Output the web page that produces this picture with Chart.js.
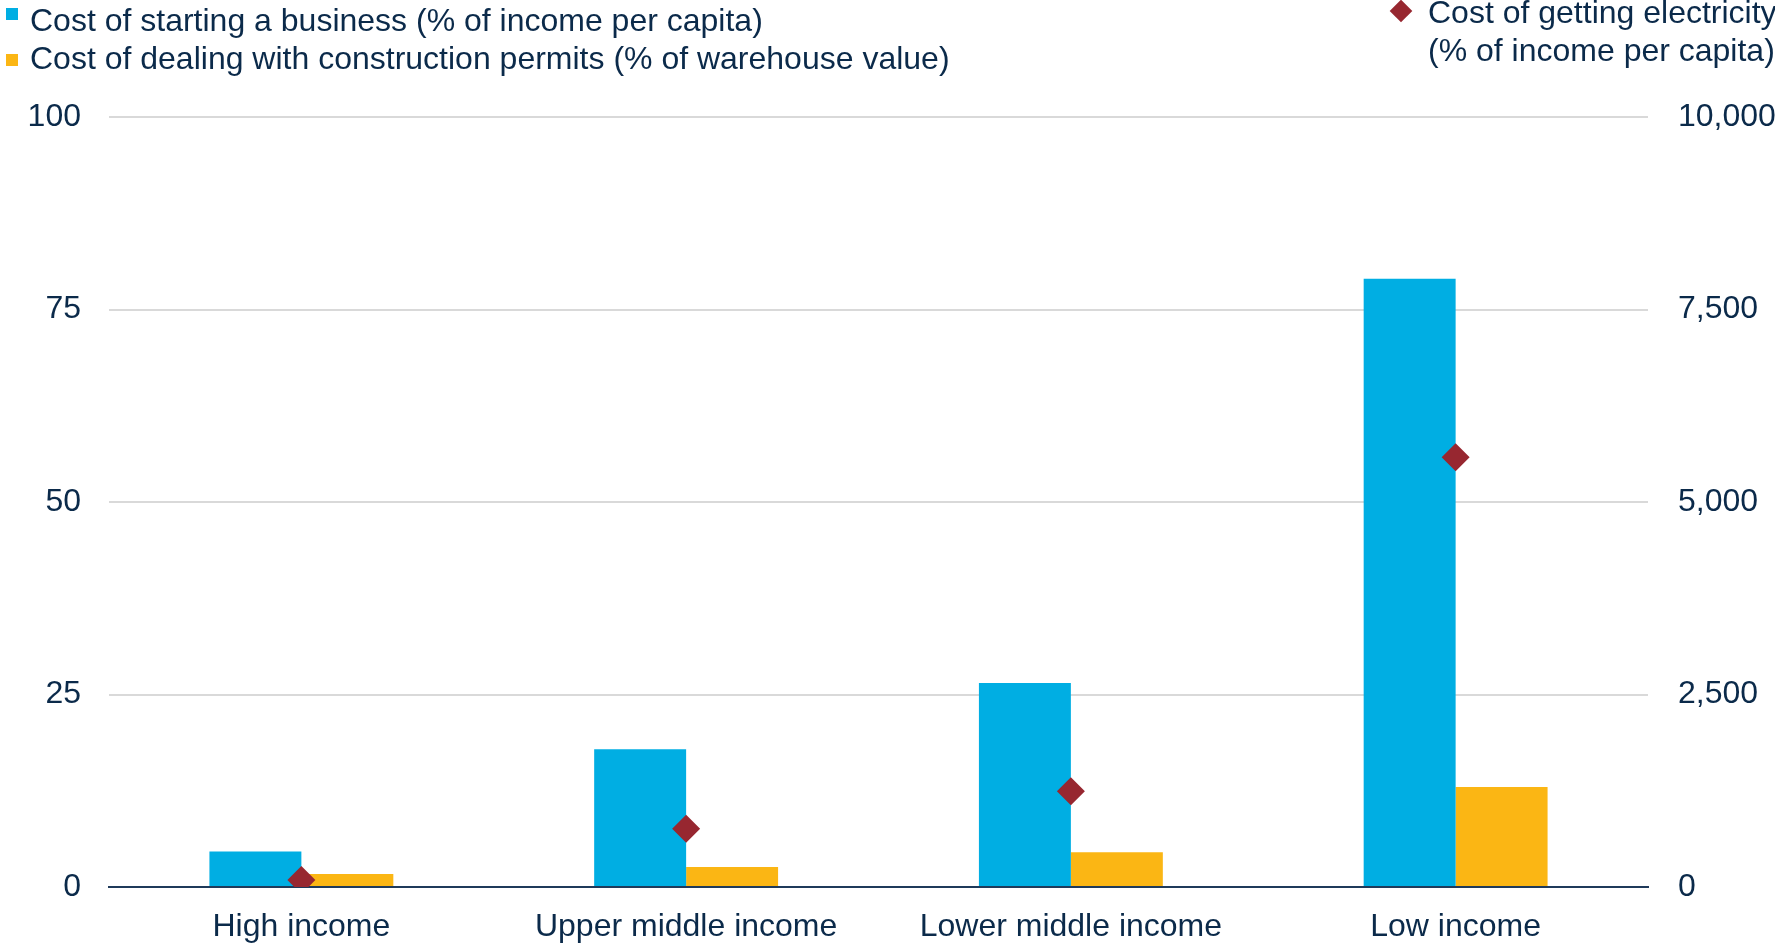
<!DOCTYPE html>
<html>
<head>
<meta charset="utf-8">
<script src="https://cdn.jsdelivr.net/npm/chart.js@4"></script>
<style>
    body { margin: 0; background: #fff; font-family: "Liberation Sans", Arial, sans-serif; color: #0b2a4a; overflow: hidden; }
    .wrap { position: relative; width: 1775px; height: 943px; }
    canvas { display: block; }
    .legend-item { position: absolute; font-size: 32px; line-height: 38px; white-space: nowrap; }
    .swatch { position: absolute; width: 12px; height: 12px; }
    .diamond { position: absolute; width: 16px; height: 16px; background: #972730; transform: rotate(45deg); }
</style>
</head>
<body>
<div class="wrap">
    <canvas id="chart" width="1775" height="943"></canvas>
    <div class="swatch" style="left:6px; top:8px; background:#00aee3;"></div>
    <div class="legend-item" id="leg-business" style="left:30px; top:1px;"></div>
    <div class="swatch" style="left:6px; top:54px; background:#fbb614;"></div>
    <div class="legend-item" id="leg-construction" style="left:30px; top:39px;"></div>
    <div class="diamond" style="left:1393px; top:3px;"></div>
    <div class="legend-item" id="leg-electricity" style="left:1428px; top:-7px;"></div>
</div>
<script>
const categories = ['High income', 'Upper middle income', 'Lower middle income', 'Low income'];
const businessCost = [4.6, 17.9, 26.5, 79.0];
const constructionCost = [1.7, 2.6, 4.5, 13.0];
const electricityCost = [90, 756, 1244, 5580];
const leftTicks = [0, 25, 50, 75, 100];
const rightTicks = [0, 2500, 5000, 7500, 10000];

const labelBusiness = 'Cost of starting a business (% of income per capita)';
const labelConstruction = 'Cost of dealing with construction permits (% of warehouse value)';
const labelElectricity = ['Cost of getting electricity', '(% of income per capita)'];

const textColor = '#0b2a4a';
const fontFamily = '"Liberation Sans", Arial, sans-serif';

document.getElementById('leg-business').textContent = labelBusiness;
document.getElementById('leg-construction').textContent = labelConstruction;
document.getElementById('leg-electricity').innerHTML = labelElectricity.join('<br>');

new Chart(document.getElementById('chart'), {
    type: 'bar',
    data: {
        labels: categories,
        datasets: [
            {
                label: labelBusiness,
                data: businessCost,
                backgroundColor: '#00aee3',
                borderWidth: 0,
                yAxisID: 'y',
                order: 1
            },
            {
                label: labelConstruction,
                data: constructionCost,
                backgroundColor: '#fbb614',
                borderWidth: 0,
                yAxisID: 'y',
                order: 1
            },
            {
                type: 'line',
                label: labelElectricity.join(' '),
                data: electricityCost,
                showLine: false,
                pointStyle: 'rectRot',
                pointRadius: 14,
                pointHoverRadius: 14,
                pointBackgroundColor: '#972730',
                pointBorderWidth: 0,
                yAxisID: 'y1',
                order: 0
            }
        ]
    },
    options: {
        responsive: false,
        animation: false,
        layout: { padding: { top: 117, left: 0, right: 0, bottom: 0 } },
        datasets: {
            bar: { categoryPercentage: 0.478, barPercentage: 1 }
        },
        plugins: {
            legend: { display: false },
            tooltip: { enabled: false }
        },
        scales: {
            x: {
                grid: { display: false, drawTicks: false },
                border: { display: true, color: '#1f3a5a', width: 2 },
                ticks: { color: textColor, font: { family: fontFamily, size: 32 }, padding: 21, maxRotation: 0 },
                // fixed axis sizes so the plot area lands where the reference has it
                afterFit: (axis) => { axis.height = 56; }
            },
            y: {
                position: 'left',
                min: 0,
                max: 100,
                afterBuildTicks: (axis) => { axis.ticks = leftTicks.map(v => ({ value: v })); },
                grid: { color: '#d9d9d9', lineWidth: 2, drawTicks: false },
                border: { display: false },
                ticks: { color: textColor, font: { family: fontFamily, size: 32 }, padding: 28 },
                afterFit: (axis) => { axis.width = 109; }
            },
            y1: {
                position: 'right',
                min: 0,
                max: 10000,
                afterBuildTicks: (axis) => { axis.ticks = rightTicks.map(v => ({ value: v })); },
                grid: { display: false, drawTicks: false },
                border: { display: false },
                ticks: {
                    color: textColor,
                    font: { family: fontFamily, size: 32 },
                    padding: 30,
                    callback: (v) => v.toLocaleString('en-US')
                },
                afterFit: (axis) => { axis.width = 127; }
            }
        }
    }
});
</script>
</body>
</html>
